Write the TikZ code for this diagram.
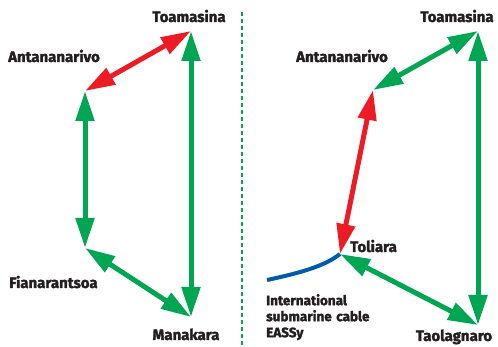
\documentclass[tikz,border=0pt]{standalone}
\usepackage{fontspec}
\setmainfont{Fira Sans}[BoldFeatures={FakeBold=2}]
\usetikzlibrary{arrows.meta}
\definecolor{lkgreen}{RGB}{0,166,81}
\definecolor{lkred}{RGB}{237,28,36}
\definecolor{lkblue}{RGB}{0,92,170}
\definecolor{lktext}{RGB}{35,31,32}
\tikzset{
  city/.style={font=\fontsize{15}{16}\selectfont\bfseries, text=lktext, inner sep=0pt},
  captext/.style={font=\fontsize{13.5}{16}\selectfont\bfseries, text=lktext, inner sep=0pt, align=left},
  link/.style={line width=5pt, {Triangle[length=30pt,width=18pt]}-{Triangle[length=30pt,width=18pt]}},
  greenlink/.style={link, draw=lkgreen, fill=lkgreen},
  redlink/.style={link, draw=lkred, fill=lkred},
  cable/.style={draw=lkblue, line width=4pt},
  divider/.style={draw=lkgreen, line width=1.6pt, dash pattern=on 4pt off 3pt}
}
\begin{document}
\begin{tikzpicture}[x=1pt,y=-1pt]
\useasboundingbox (0,0) rectangle (498,347);
% left panel points
\coordinate (LT) at (191,31);
\coordinate (LA) at (85,91);
\coordinate (LF) at (85,248);
\coordinate (LM) at (191,317);
% right panel points
\coordinate (RT) at (478,31);
\coordinate (RA) at (373,90);
\coordinate (RL) at (340,254);
\coordinate (RG) at (478,325);
\coordinate (RC) at (267,280);
\coordinate (D1) at (242,12);
\coordinate (D2) at (242,347);
% labels
\node[city, anchor=base] (tLT) at (189,22) {Toamasina};
\node[city, anchor=base west] (tLA) at (8,62) {Antananarivo};
\node[city, anchor=base west] (tLF) at (9,288) {Fianarantsoa};
\node[city, anchor=base] (tLM) at (186,340) {Manakara};
\node[city, anchor=base] (tRT) at (457,22) {Toamasina};
\node[city, anchor=base west] (tRA) at (296,62) {Antananarivo};
\node[city, anchor=base west] (tRL) at (350,252) {Toliara};
\node[city, anchor=base] (tRG) at (454,341) {Taolagnaro};
\node[captext, anchor=north west, text width=120pt] (tC) at (266,294) {International\\submarine cable\\EASSy};
% divider
\draw[divider] (D1) -- (D2);
% left connectors
\draw[redlink] (LA) -- (LT);
\draw[greenlink] (LA) -- (LF);
\draw[greenlink] (LF) -- (LM);
\draw[greenlink] (LT) -- (LM);
% right connectors
\draw[cable] (RC) .. controls (300,273) and (325,266) .. (RL);
\draw[greenlink] (RA) -- (RT);
\draw[redlink] (RA) -- (RL);
\draw[greenlink] (RL) -- (RG);
\draw[greenlink] (RT) -- (RG);
\end{tikzpicture}
\end{document}
